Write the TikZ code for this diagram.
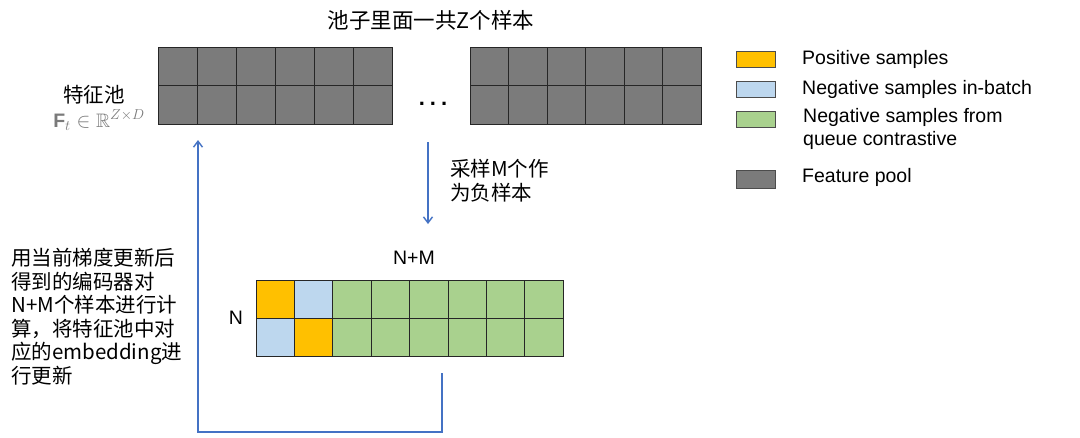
\documentclass[tikz,border=0pt]{standalone}
\usepackage{amssymb}
\usepackage{fontspec}
\setmainfont{Liberation Sans}
\newfontfamily\cjk{Noto Sans CJK SC}
\usetikzlibrary{arrows.meta}
\definecolor{poolgray}{HTML}{7B7B7B}
\definecolor{posorange}{HTML}{FFC000}
\definecolor{neglblue}{HTML}{BDD7EE}
\definecolor{neggreen}{HTML}{A9D18E}
\definecolor{arrowblue}{HTML}{4472C4}
\definecolor{formgray}{HTML}{7A7A7A}
\begin{document}
\begin{tikzpicture}[x=1pt,y=-1pt,
  cell/.style={draw=black!85, line width=0.9pt, inner sep=0pt, outer sep=0pt, anchor=north west},
  poolcell/.style={cell, fill=poolgray},
  legbox/.style={draw=black!70, line width=0.9pt, inner sep=0pt, minimum width=39pt, minimum height=16.5pt, anchor=north west},
  legtext/.style={anchor=west, inner sep=0pt, font=\fontsize{19.5}{23.5}\selectfont},
  cjktext/.style={inner sep=0pt, font=\cjk\fontsize{20.5}{23.6}\selectfont},
  arr/.style={draw=arrowblue, line width=1.4pt, -{Straight Barb[length=6pt,width=9pt,line width=1.4pt]}},
  line/.style={draw=arrowblue, line width=1.4pt}
]
\fill[white] (0,0) rectangle (1080,437);
\useasboundingbox (0,0) rectangle (1080,437);

% title
\node[cjktext, font=\cjk\fontsize{21.5}{24}\selectfont] (title) at (431,20) {池子里面一共Z个样本};

% left pool grid
\foreach \i in {0,...,5}{
  \foreach \j in {0,1}{
    \node[poolcell, minimum width=39pt, minimum height=38.5pt] (L\i\j) at ({158+39*\i},{47+38.5*\j}) {};
  }
}
% right pool grid
\foreach \i in {0,...,5}{
  \foreach \j in {0,1}{
    \node[poolcell, minimum width=38.5pt, minimum height=38.5pt] (R\i\j) at ({470+38.5*\i},{47+38.5*\j}) {};
  }
}
\node[inner sep=0pt, anchor=base, font=\fontsize{22}{24}\selectfont\bfseries] (dots) at (433,105) {.\hspace{5pt}.\hspace{5pt}.};

% pool label
\node[cjktext] (poollabel) at (94,95) {特征池};
\node[inner sep=0pt, text=formgray, font=\fontsize{19.5}{22}\selectfont] (formula) at (99,120) {$\mathbf{F}_t \in \mathbb{R}^{Z\times D}$};

% sampling arrow
\coordinate (sampletop) at (428,142);
\coordinate (samplebot) at (428,224);
\draw[arr] (sampletop) -- (samplebot);
\node[cjktext, anchor=north west, align=left] (sampletext) at (450,159) {采样M个作\\为负样本};

% batch grid
\node[cell, fill=posorange, minimum width=38.4pt, minimum height=38pt] (B00) at (256,280) {};
\node[cell, fill=neglblue, minimum width=38.4pt, minimum height=38pt] (B10) at (294.4,280) {};
\node[cell, fill=neglblue, minimum width=38.4pt, minimum height=38pt] (B01) at (256,318) {};
\node[cell, fill=posorange, minimum width=38.4pt, minimum height=38pt] (B11) at (294.4,318) {};
\foreach \i in {2,...,7}{
  \foreach \j in {0,1}{
    \node[cell, fill=neggreen, minimum width=38.4pt, minimum height=38pt] (B\i\j) at ({256+38.4*\i},{280+38*\j}) {};
  }
}
\node[inner sep=0pt, font=\fontsize{19.5}{23}\selectfont] (nm) at (414,258) {N+M};
\node[inner sep=0pt, font=\fontsize{19.5}{23}\selectfont] (nlab) at (236,318) {N};

% update loop arrow
\coordinate (loopstart) at (442,373);
\coordinate (loopend) at (198,140);
\draw[arr] (loopstart) -- ++(0,59) -| (loopend);

% left description
\node[cjktext, anchor=north west, align=left] (desc) at (11,248) {用当前梯度更新后\\得到的编码器对\\N+M个样本进行计\\算，将特征池中对\\应的embedding进\\行更新};

% legend
\node[legbox, fill=posorange] (lg1) at (736,50.5) {};
\node[legbox, fill=neglblue] (lg2) at (736,80.5) {};
\node[legbox, fill=neggreen] (lg3) at (736,110.5) {};
\node[legbox, fill=poolgray, minimum height=18pt] (lg4) at (736,169.5) {};
\node[legtext] (lt1) at (802,59) {Positive samples};
\node[legtext] (lt2) at (802,89) {Negative samples in-batch};
\node[legtext, anchor=north west, align=left] (lt3) at (803,108) {Negative samples from\\queue contrastive};
\node[legtext] (lt4) at (802,177) {Feature pool};
\end{tikzpicture}
\end{document}
